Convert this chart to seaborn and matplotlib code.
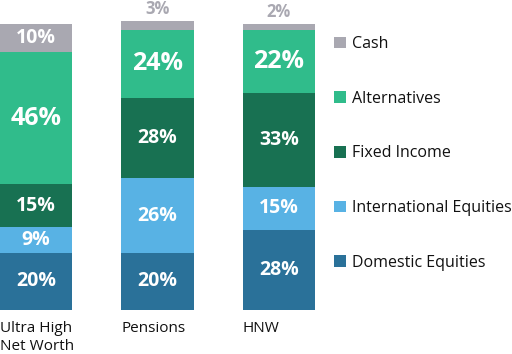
import numpy as np
import pandas as pd
import matplotlib
matplotlib.use("Agg")
import matplotlib.pyplot as plt
from matplotlib.patches import Patch
from matplotlib.transforms import blended_transform_factory, offset_copy
import seaborn as sns

# Data
groups = ["Ultra High\nNet Worth", "Pensions", "HNW"]
series = ["Domestic Equities", "International Equities", "Fixed Income", "Alternatives", "Cash"]
domestic = [20, 20, 28]
international = [9, 26, 15]
fixed_income = [15, 28, 33]
alternatives = [46, 24, 22]
cash = [10, 3, 2]

colors = {
    "Domestic Equities": "#2a7199",
    "International Equities": "#58b2e4",
    "Fixed Income": "#187152",
    "Alternatives": "#30bc8b",
    "Cash": "#a9a8b1",
}


def main():
    sns.set_theme(style="white")
    plt.rcParams["font.family"] = ["Open Sans", "DejaVu Sans"]

    values = {
        "Domestic Equities": domestic,
        "International Equities": international,
        "Fixed Income": fixed_income,
        "Alternatives": alternatives,
        "Cash": cash,
    }
    df = pd.DataFrame(values, index=groups)

    W, H = 512, 354
    fig = plt.figure(figsize=(W / 100, H / 100), dpi=100)
    ax = fig.add_axes([0, (H - 310) / H, 315 / W, (310 - 21) / H])

    bw = 0.595
    bottom = np.zeros(len(groups))
    for s in series:
        sns.barplot(x=list(range(len(groups))), y=df[s].values, bottom=bottom,
                    color=colors[s], width=bw, saturation=1, ax=ax,
                    linewidth=0, clip_on=False, native_scale=True)
        for i, v in enumerate(df[s].values):
            mid = bottom[i] + v / 2
            if s == "Cash" and v < 5:
                ax.text(i, bottom[i] + v + 1.0, f"{v}%", ha="center", va="bottom",
                        color="#a9a8b1", fontsize=12, fontweight="bold")
            else:
                fs = 18 if s == "Alternatives" else 14
                ax.text(i, mid, f"{v}%", ha="center", va="center",
                        color="white", fontsize=fs, fontweight="bold")
        bottom = bottom + df[s].values

    ax.set_xlim(-bw / 2, len(groups) - 1 + bw / 2)
    ax.set_ylim(0, 101)
    ax.axis("off")

    # category labels, left aligned under each bar
    tr = blended_transform_factory(ax.transData, ax.transAxes)
    tr = offset_copy(tr, fig=fig, y=-11, units="dots")
    for i, g in enumerate(groups):
        ax.text(i - bw / 2, 0, g, ha="left", va="top", fontsize=11,
                color="#111111", transform=tr, linespacing=1.25)

    handles = [Patch(facecolor=colors[s], edgecolor="none") for s in series[::-1]]
    fig.legend(handles, series[::-1], loc="upper left",
               bbox_to_anchor=(334 / W, 1 - 36 / H), frameon=False,
               fontsize=11.5, handlelength=0.75, handleheight=0.75,
               handletextpad=0.4, labelspacing=2.42, borderpad=0, borderaxespad=0,
               labelcolor="#111111")

    fig.savefig("out.png", dpi=100)


if __name__ == "__main__":
    main()
